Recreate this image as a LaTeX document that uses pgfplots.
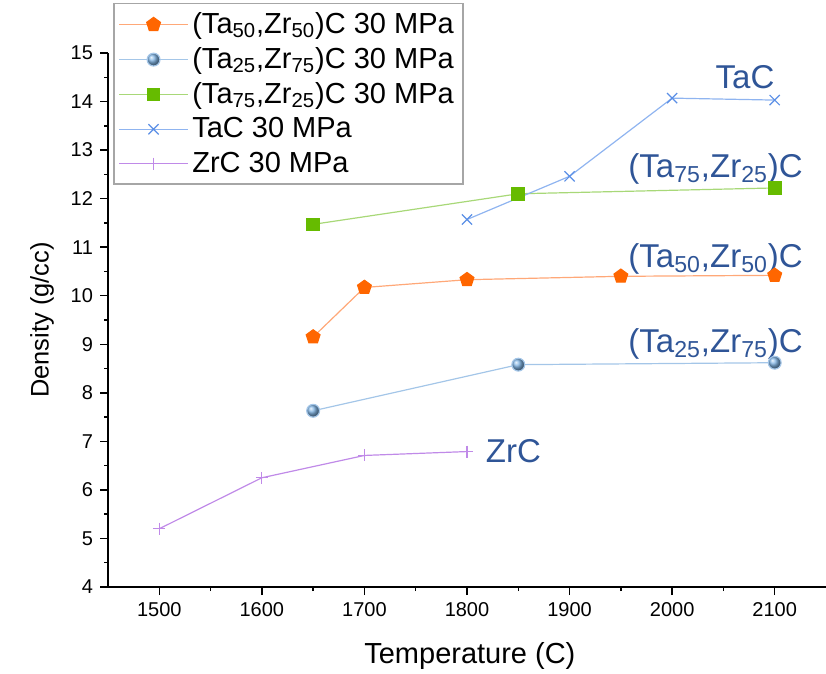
\documentclass[border=0pt]{standalone}
\usepackage{fontspec}
\setmainfont{Liberation Sans}
\usepackage{pgfplots}
\pgfplotsset{compat=1.18}
\usetikzlibrary{plotmarks}
\definecolor{orgM}{HTML}{FF6600}
\definecolor{orgL}{HTML}{FFA878}
\definecolor{bluM}{HTML}{80B4E4}
\definecolor{bluL}{HTML}{A4C6E8}
\definecolor{grnM}{HTML}{66BB00}
\definecolor{grnL}{HTML}{A8D878}
\definecolor{tacM}{HTML}{5B8FE6}
\definecolor{tacL}{HTML}{8FB4F0}
\definecolor{zrcM}{HTML}{C08AE8}
\definecolor{annot}{HTML}{2F5597}
\begin{document}
\begin{tikzpicture}
\begin{axis}[
  scale only axis,
  width=359pt, height=267pt,
  xmin=1450, xmax=2150, ymin=4, ymax=15,
  axis lines=left,
  axis line style={-, line width=0.7pt},
  xtick={1500,1600,...,2100},
  ytick={4,5,...,15},
  minor x tick num=1, minor y tick num=1,
  tick align=outside,
  major tick length=4pt, minor tick length=2pt,
  tick style={black, line width=0.7pt},
  /pgf/number format/assume math mode=true,
  /pgf/number format/set thousands separator={},
  ticklabel style={font=\fontsize{10}{12}\selectfont},
  xlabel={Temperature (C)},
  ylabel={Density (g/cc)},
  xlabel style={font=\fontsize{14.5}{17}\selectfont, at={(axis description cs:0.504,-0.13)}, anchor=center},
  ylabel style={font=\fontsize{12.7}{15}\selectfont, at={(axis description cs:-0.092,0.5)}, anchor=center},
  clip=false,
  legend cell align=left,
  legend style={at={(axis description cs:0.007,1.094)}, anchor=north west,
    draw=gray!70, line width=0.8pt, font=\fontsize{14.5}{17}\selectfont,
    row sep=1.5pt, inner sep=2.5pt},
  legend image code/.code={\draw[mark repeat=2,mark phase=2] plot coordinates {(0cm,0cm) (0.6cm,0cm) (1.2cm,0cm)};},
]
\addplot[color=orgL, line width=0.6pt, mark=pentagon*, mark size=3.6pt, mark options={fill=orgM, draw=orgM}]
  coordinates {(1650,9.15) (1700,10.17) (1800,10.33) (1950,10.40) (2100,10.42)};
\addlegendentry{(Ta\textsubscript{50},Zr\textsubscript{50})C 30 MPa}
\addplot[color=bluL, line width=0.6pt, mark=ball, mark size=3.2pt, mark options={ball color=bluM}]
  coordinates {(1650,7.63) (1850,8.58) (2100,8.62)};
\addlegendentry{(Ta\textsubscript{25},Zr\textsubscript{75})C 30 MPa}
\addplot[color=grnL, line width=0.6pt, mark=square*, mark size=3.1pt, mark options={fill=grnM, draw=grnM}]
  coordinates {(1650,11.47) (1850,12.10) (2100,12.22)};
\addlegendentry{(Ta\textsubscript{75},Zr\textsubscript{25})C 30 MPa}
\addplot[color=tacL, line width=0.6pt, mark=x, mark size=3.6pt, mark options={draw=tacM, line width=0.6pt}]
  coordinates {(1800,11.57) (1900,12.46) (2000,14.07) (2100,14.03)};
\addlegendentry{TaC 30 MPa}
\addplot[color=zrcM, line width=0.6pt, mark=+, mark size=3pt, mark options={draw=zrcM, line width=0.6pt}]
  coordinates {(1500,5.20) (1600,6.25) (1700,6.71) (1800,6.79)};
\addlegendentry{ZrC 30 MPa}
\begin{scope}[every node/.style={font=\fontsize{16.5}{19}\selectfont, text=annot, anchor=base west, inner sep=0pt}]
\node at (axis cs:2042,14.26) {TaC};
\node at (axis cs:1957,12.44) {(Ta\textsubscript{75},Zr\textsubscript{25})C};
\node at (axis cs:1957,10.58) {(Ta\textsubscript{50},Zr\textsubscript{50})C};
\node at (axis cs:1957,8.83) {(Ta\textsubscript{25},Zr\textsubscript{75})C};
\node at (axis cs:1818,6.56) {ZrC};
\end{scope}
\end{axis}
\pgfresetboundingbox
\path (current axis.south west) ++(-54pt,-43pt) rectangle ([yshift=26.5pt]current axis.north east);
\end{tikzpicture}
\end{document}
